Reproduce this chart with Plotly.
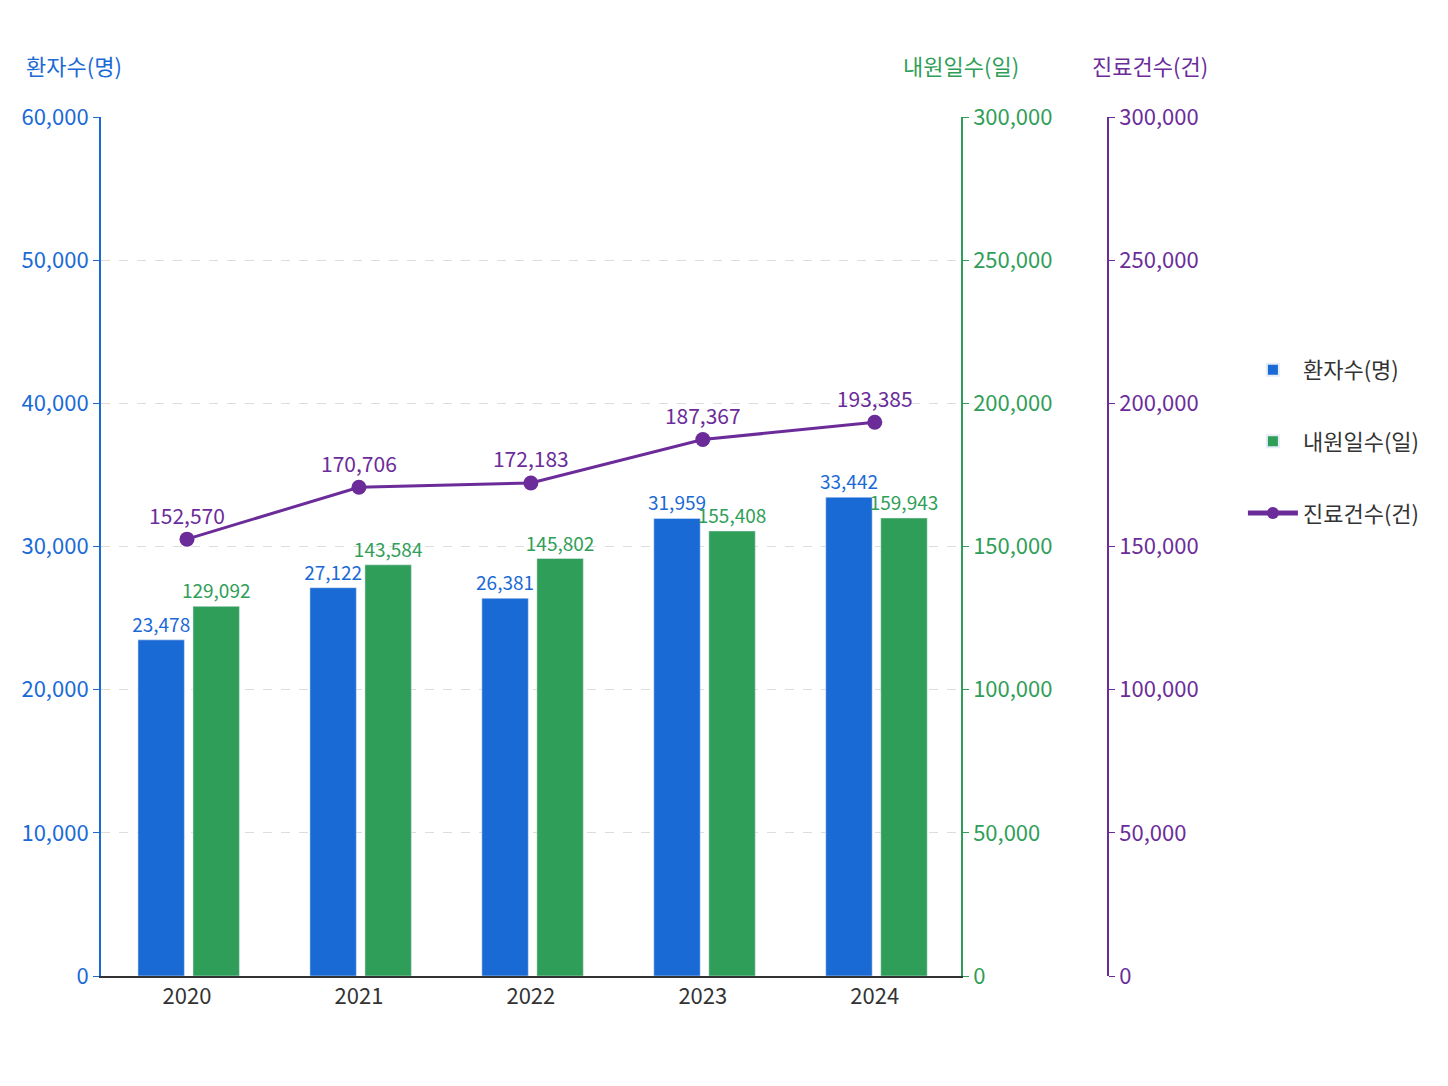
import plotly.graph_objects as go

years = ["2020", "2021", "2022", "2023", "2024"]
patients = [23478, 27122, 26381, 31959, 33442]
visit_days = [129092, 143584, 145802, 155408, 159943]
treatments = [152570, 170706, 172183, 187367, 193385]

BLUE = "#1a6ad6"
GREEN = "#2f9e58"
PURPLE = "#6b2c9a"
FONT = "Noto Sans CJK KR"

fig = go.Figure()
fig.add_bar(x=years, y=patients, name="환자수(명)", marker_color=BLUE,
            width=0.27, offset=-0.285, text=[f"{v:,}" for v in patients],
            textposition="outside", textfont=dict(color=BLUE, size=19),
            constraintext="none", cliponaxis=False, legendgroup="a")
fig.add_bar(x=years, y=visit_days, name="내원일수(일)", marker_color=GREEN,
            width=0.27, offset=0.035, yaxis="y2", text=[f"{v:,}" for v in visit_days],
            textposition="outside", textfont=dict(color=GREEN, size=19),
            constraintext="none", cliponaxis=False, legendgroup="b")
fig.add_scatter(x=years, y=treatments, name="진료건수(건)", yaxis="y3",
                mode="lines+markers+text", line=dict(color=PURPLE, width=3),
                marker=dict(size=15, color=PURPLE),
                text=[f"{v:,}" for v in treatments], textposition="top center",
                textfont=dict(color=PURPLE, size=21), cliponaxis=False,
                legendgroup="c")

axis_common = dict(ticks="outside", ticklen=6, showline=True, linewidth=2,
                   tickformat=",", zeroline=False)
fig.update_layout(
    width=1448, height=1086, plot_bgcolor="white", paper_bgcolor="white",
    font=dict(family=FONT, size=18, color="#333"),
    margin=dict(l=93, r=257, t=109, b=118),
    barmode="overlay", showlegend=True,
    legend=dict(x=1.04, y=0.73, yanchor="top", font=dict(size=22),
                itemsizing="constant", itemwidth=50, tracegroupgap=40),
    xaxis=dict(domain=[0, 0.783], range=[-0.5, 4.5], showline=True,
               linecolor="#333", linewidth=2, tickfont=dict(size=22, color="#333")),
    yaxis=dict(range=[0, 60000], dtick=10000, linecolor=BLUE, tickcolor=BLUE,
               tickfont=dict(size=22, color=BLUE), gridcolor="#dddddd",
               griddash="dash", **axis_common),
    yaxis2=dict(range=[0, 300000], dtick=50000, overlaying="y", side="right",
                anchor="x", linecolor=GREEN, tickcolor=GREEN, showgrid=False,
                tickfont=dict(size=22, color=GREEN), **axis_common),
    yaxis3=dict(range=[0, 300000], dtick=50000, overlaying="y", side="right",
                anchor="free", position=0.917, linecolor=PURPLE, tickcolor=PURPLE,
                showgrid=False, tickfont=dict(size=22, color=PURPLE), **axis_common),
    annotations=[
        dict(text="환자수(명)", x=-0.07, y=1.04, xref="paper", yref="paper",
             xanchor="left", yanchor="bottom", showarrow=False,
             font=dict(size=22, color=BLUE)),
        dict(text="내원일수(일)", x=0.783, y=1.04, xref="paper", yref="paper",
             xanchor="center", yanchor="bottom", showarrow=False,
             font=dict(size=22, color=GREEN)),
        dict(text="진료건수(건)", x=0.955, y=1.04, xref="paper", yref="paper",
             xanchor="center", yanchor="bottom", showarrow=False,
             font=dict(size=22, color=PURPLE)),
    ],
)

fig.write_html("out.html")
